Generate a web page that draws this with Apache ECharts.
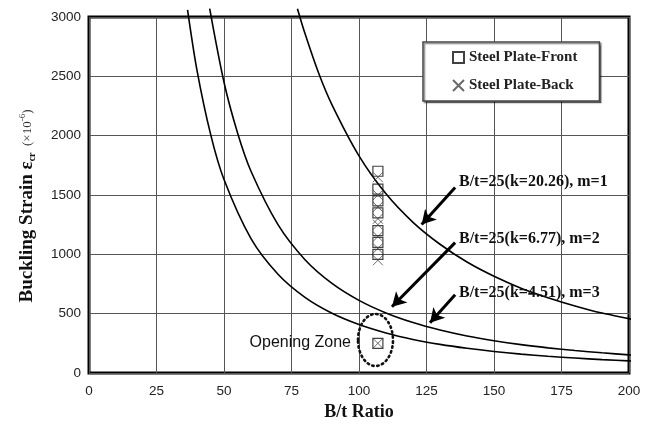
<!DOCTYPE html>
<html>
<head>
<meta charset="utf-8">
<script src="https://cdn.jsdelivr.net/npm/echarts@6/dist/echarts.min.js"></script>
<style>
  html, body { margin: 0; padding: 0; background: #fff; }
  #chart { width: 651px; height: 427px; }
</style>
</head>
<body>
<div id="chart"></div>
<script>
// Axis ticks
const ratioTicks = [0, 25, 50, 75, 100, 125, 150, 175, 200];
const strainTicks = [0, 500, 1000, 1500, 2000, 2500, 3000];

// Measured buckling strains of the specimen (B/t = 107)
const plateRatio = 107;
const frontStrain = [1700, 1550, 1450, 1350, 1200, 1100, 1000, 250];
const backStrain = [1650, 1500, 1400, 1300, 1250, 1150, 1050, 950, 250];

// Theoretical buckling curves, [B/t, strain]
const curveM1 = [[77.2, 3070], [80, 2860], [85, 2530], [90, 2260], [100, 1830], [110, 1510],
  [120, 1270], [130, 1085], [140, 935], [150, 815], [160, 715], [170, 635], [180, 565],
  [190, 505], [200, 458], [203, 444]];
const curveM2 = [[44.7, 3070], [50, 2450], [55, 2025], [60, 1700], [70, 1250], [80, 955],
  [90, 755], [100, 612], [110, 506], [120, 425], [130, 362], [140, 312], [150, 272],
  [160, 239], [170, 212], [180, 189], [190, 170], [200, 153], [203, 148]];
const curveM3 = [[36.5, 3060], [40, 2550], [45, 2015], [50, 1630], [60, 1132], [70, 832],
  [80, 637], [90, 503], [100, 408], [110, 337], [120, 283], [130, 241], [140, 208],
  [150, 181], [160, 159], [170, 141], [180, 126], [190, 113], [200, 102], [203, 99]];

// Curve labels and the arrows pointing at the curves (data coordinates)
const curveLabels = ['B/t=25(k=20.26), m=1', 'B/t=25(k=6.77), m=2', 'B/t=25(k=4.51), m=3'];
const arrows = [
  [[135.6, 1563], [123.2, 1251]],
  [[135.6, 1099], [112.2, 558]],
  [[135.6, 659], [126.3, 423]]
];

const serif = '"Liberation Serif", "Times New Roman", serif';
const sans = '"Liberation Sans", Arial, sans-serif';

const chart = echarts.init(document.getElementById('chart'), null, { renderer: 'canvas' });

function curveSeries(name, pts) {
  return {
    name: name, type: 'line', data: pts, smooth: 0.3, showSymbol: false, clip: false,
    silent: true, lineStyle: { color: '#000', width: 1.6 }, z: 3
  };
}

const option = {
  animation: false,
  backgroundColor: '#fff',
  grid: {
    left: 89, right: 22, top: 17, bottom: 54, show: true,
    borderColor: '#000', borderWidth: 3, backgroundColor: 'transparent'
  },
  xAxis: {
    type: 'value', min: ratioTicks[0], max: ratioTicks[ratioTicks.length - 1], interval: 25,
    name: 'B/t Ratio', nameLocation: 'middle', nameGap: 30,
    nameTextStyle: { fontFamily: serif, fontWeight: 'bold', fontSize: 18, color: '#111' },
    axisLine: { show: false }, axisTick: { show: false },
    axisLabel: { fontFamily: sans, fontSize: 13.5, color: '#222', margin: 11, formatter: v => String(v) },
    splitLine: { lineStyle: { color: '#555', width: 1 } }
  },
  yAxis: {
    type: 'value', min: strainTicks[0], max: strainTicks[strainTicks.length - 1], interval: 500,
    name: '{b|Buckling Strain ε}{s|cr}{n|  (×10}{p|-6}{n|)}',
    nameLocation: 'middle', nameGap: 52, nameRotate: 90,
    nameTextStyle: {
      padding: [0, 22, 0, 0],
      rich: {
        b: { fontFamily: serif, fontWeight: 'bold', fontSize: 19, color: '#111' },
        s: { fontFamily: serif, fontWeight: 'bold', fontSize: 10, color: '#111', verticalAlign: 'bottom', padding: [8, 0, 0, 0] },
        n: { fontFamily: serif, fontSize: 13, color: '#333' },
        p: { fontFamily: serif, fontSize: 9, color: '#333', verticalAlign: 'top', padding: [0, 0, 8, 0] }
      }
    },
    axisLine: { show: false }, axisTick: { show: false },
    axisLabel: { fontFamily: sans, fontSize: 13.5, color: '#222', margin: 8, formatter: v => String(v) },
    splitLine: { lineStyle: { color: '#555', width: 1 } }
  },
  legend: {
    orient: 'vertical', left: 423, top: 42,
    padding: [8, 22, 8, 29], itemGap: 13, itemWidth: 11, itemHeight: 11,
    backgroundColor: '#fff', borderColor: '#444', borderWidth: 1.5,
    shadowColor: 'rgba(0,0,0,0.45)', shadowOffsetX: 1.5, shadowOffsetY: 1.5, shadowBlur: 1,
    textStyle: { fontFamily: serif, fontWeight: 'bold', fontSize: 15, color: '#222' },
    data: ['Steel Plate-Front', 'Steel Plate-Back'],
    selectedMode: false
  },
  series: [
    curveSeries('m=1', curveM1),
    curveSeries('m=2', curveM2),
    curveSeries('m=3', curveM3),
    {
      name: 'Steel Plate-Front', type: 'scatter', symbol: 'rect', symbolSize: 10,
      data: frontStrain.map(v => [plateRatio, v]),
      itemStyle: { color: 'rgba(0,0,0,0)', borderColor: '#111', borderWidth: 1.2 }, z: 5
    },
    {
      name: 'Steel Plate-Back', type: 'scatter', symbol: 'path://M0,0L10,10M10,0L0,10', symbolSize: 10,
      data: backStrain.map(v => [plateRatio, v]),
      itemStyle: { color: 'rgba(0,0,0,0)', borderColor: '#444', borderWidth: 1 }, z: 5
    },
    {
      name: 'arrows', type: 'line', data: [], silent: true,
      markLine: {
        silent: true, symbol: ['none', 'arrow'], symbolSize: [12, 14],
        label: { show: false },
        lineStyle: { color: '#000', width: 3, type: 'solid' },
        emphasis: { disabled: true },
        data: arrows.map(a => [{ coord: a[0] }, { coord: a[1] }])
      }
    }
  ],
  graphic: [
    {
      type: 'text', left: 459, top: 174, z: 10,
      style: { text: curveLabels[0], font: 'bold 16px ' + serif, fill: '#111' }
    },
    {
      type: 'text', left: 459, top: 231, z: 10,
      style: { text: curveLabels[1], font: 'bold 16px ' + serif, fill: '#111' }
    },
    {
      type: 'text', left: 459, top: 285, z: 10,
      style: { text: curveLabels[2], font: 'bold 16px ' + serif, fill: '#111' }
    },
    {
      type: 'text', x: 351, y: 343, z: 10,
      style: { text: 'Opening Zone', font: '16px ' + sans, fill: '#111', align: 'right', verticalAlign: 'middle' }
    },
    {
      type: 'ellipse', z: 10,
      shape: { cx: 375.5, cy: 340, rx: 17.5, ry: 26 },
      style: { fill: 'none', stroke: '#111', lineWidth: 2.6, lineDash: [1.5, 3.5], lineCap: 'round' }
    }
  ]
};

chart.setOption(option);
</script>
</body>
</html>
